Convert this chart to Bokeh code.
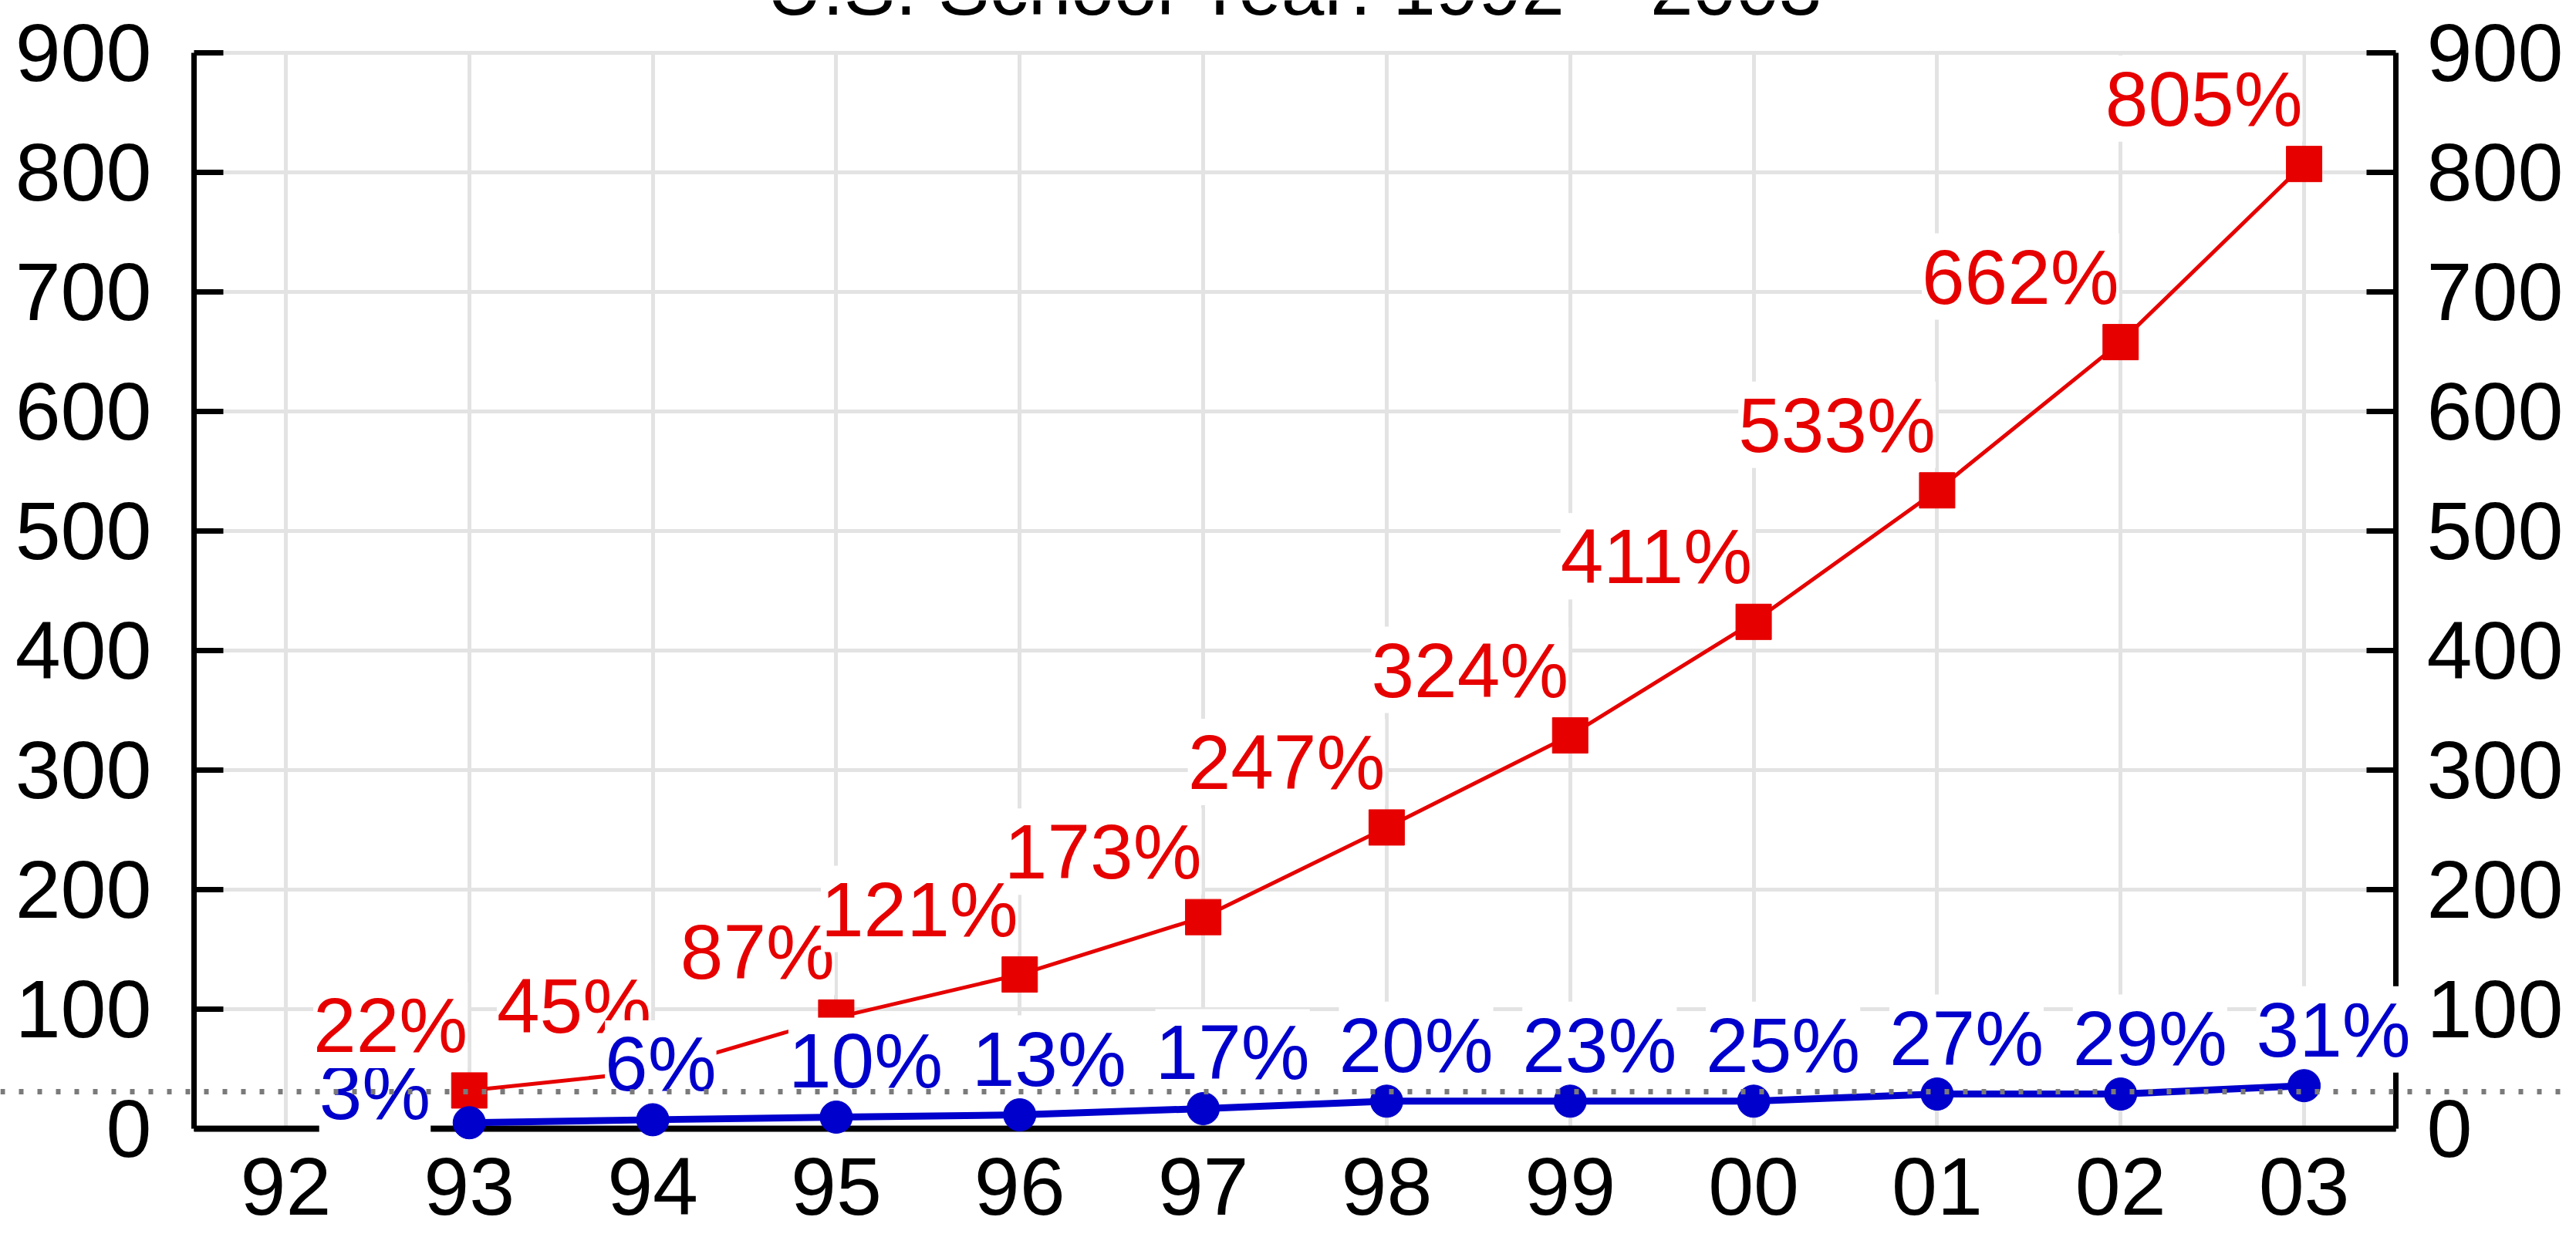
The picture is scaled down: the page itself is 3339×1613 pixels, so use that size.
from bokeh.plotting import figure
from bokeh.models import (ColumnDataSource, LabelSet, Label, LinearAxis, FixedTicker,
                          Range1d, Span, Grid)
from bokeh.embed import file_html
from bokeh.resources import INLINE
from bokeh.core.properties import value

# ---------------- data ----------------
TITLE = "U.S. School Year: 1992 \u2013 2003"
years = ["92", "93", "94", "95", "96", "97", "98", "99", "00", "01", "02", "03"]
series_years = ["93", "94", "95", "96", "97", "98", "99", "00", "01", "02", "03"]
red_values = [32, 48, 93, 129, 177, 252, 329, 424, 534, 658, 807]
red_labels = ["22%", "45%", "87%", "121%", "173%", "247%", "324%", "411%", "533%", "662%", "805%"]
blue_values = [5, 7.5, 9.7, 11.6, 16.8, 23, 23, 23, 29, 29, 36]
blue_labels = ["3%", "6%", "10%", "13%", "17%", "20%", "23%", "25%", "27%", "29%", "31%"]
y_ticks = [0, 100, 200, 300, 400, 500, 600, 700, 800, 900]
reference_level = 31

# ---------------- styles / layout ----------------
RED = "#e60000"
BLUE = "#0000cc"
GRID = "#e3e3e3"
FONT = "Liberation Sans"
FS_TICK = "106px"
FS_LABEL = "100px"

W, H = 3323, 1605
# pixel targets for the plotting box
BOX_L, BOX_R, BOX_T, BOX_B = 251, 3105, 68, 1463
TITLE_MIDDLE = -17

x_lo, x_hi = -0.5, len(years) - 0.5
y_lo, y_hi = y_ticks[0], y_ticks[-1]
ppx = (BOX_R - BOX_L) / (x_hi - x_lo)
ppy = (BOX_B - BOX_T) / (y_hi - y_lo)
x_range = Range1d(x_lo - BOX_L / ppx, x_hi + (W - BOX_R) / ppx)
y_range = Range1d(y_lo - (H - BOX_B) / ppy, y_hi + BOX_T / ppy)

xpos = [years.index(y) for y in series_years]

p = figure(width=W, height=H, x_range=x_range, y_range=y_range,
           output_backend="svg", toolbar_location=None,
           min_border_left=0, min_border_right=0, min_border_top=0, min_border_bottom=0)
p.outline_line_color = None
p.background_fill_color = "white"
p.border_fill_color = "white"

# grids
p.xgrid.ticker = FixedTicker(ticks=list(range(len(years))))
p.ygrid.ticker = FixedTicker(ticks=y_ticks)
if "cross_bounds" in Grid.properties():
    p.xgrid.cross_bounds = (y_lo, y_hi)
    p.ygrid.cross_bounds = (x_lo, x_hi)
    for g in (p.xgrid, p.ygrid):
        g.grid_line_color = GRID
        g.grid_line_width = 5
else:
    p.xgrid.visible = False
    p.ygrid.visible = False
    p.segment(x0=list(range(len(years))), y0=y_lo, x1=list(range(len(years))), y1=y_hi,
              line_color=GRID, line_width=5, level="underlay")
    p.segment(x0=x_lo, y0=y_ticks, x1=x_hi, y1=y_ticks,
              line_color=GRID, line_width=5, level="underlay")

# bottom axis, fixed at value 0
xa = p.xaxis[0]
xa.fixed_location = y_lo
xa.bounds = (x_lo, x_hi)
xa.ticker = FixedTicker(ticks=list(range(len(years))))
xa.major_label_overrides = {i: t for i, t in enumerate(years)}
xa.axis_line_width = 8
xa.axis_line_color = "black"
xa.major_tick_in = 0
xa.major_tick_out = 0
xa.minor_tick_in = 0
xa.minor_tick_out = 0
xa.major_label_standoff = 38
xa.major_label_text_font = FONT
xa.major_label_text_font_size = FS_TICK
xa.major_label_text_color = "black"

right = LinearAxis()
p.add_layout(right, "right")
left = p.yaxis[0]
left.fixed_location = x_lo
right.fixed_location = x_hi
for ax in (left, right):
    ax.bounds = (y_lo, y_hi)
    ax.ticker = FixedTicker(ticks=y_ticks)
    ax.axis_line_width = 7
    ax.axis_line_color = "black"
    ax.major_tick_in = 38
    ax.major_tick_out = 0
    ax.major_tick_line_width = 7
    ax.minor_tick_in = 0
    ax.minor_tick_out = 0
    ax.major_label_text_font = FONT
    ax.major_label_text_font_size = FS_TICK
    ax.major_label_text_color = "black"
left.major_label_standoff = 55
right.major_label_standoff = 40

# series
red_src = ColumnDataSource(dict(x=xpos, y=red_values, t=red_labels))
blue_src = ColumnDataSource(dict(x=xpos, y=blue_values, t=blue_labels))
blue_first = ColumnDataSource(dict(x=xpos[:1], y=blue_values[:1], t=blue_labels[:1]))
blue_rest = ColumnDataSource(dict(x=xpos[1:], y=blue_values[1:], t=blue_labels[1:]))

p.line("x", "y", source=red_src, line_color=RED, line_width=5)
p.scatter("x", "y", source=red_src, marker="square", size=46,
          fill_color=RED, line_color=RED)

common = dict(text_font=value(FONT), text_font_size=value(FS_LABEL),
              background_fill_color="white", text_baseline="alphabetic")

p.add_layout(LabelSet(x="x", y="y", text="t", source=blue_first, text_color=BLUE,
                      text_align="right", x_offset=-50, y_offset=5, **common))
p.add_layout(LabelSet(x="x", y="y", text="t", source=red_src, text_color=RED,
                      text_align="right", x_offset=-2, y_offset=50, **common))
p.add_layout(LabelSet(x="x", y="y", text="t", source=blue_rest, text_color=BLUE,
                      text_align="left", x_offset=-62, y_offset=38, **common))

p.line("x", "y", source=blue_src, line_color=BLUE, line_width=9, level="overlay")
p.scatter("x", "y", source=blue_src, marker="circle", size=42,
          fill_color=BLUE, line_color=BLUE, level="overlay")

# dotted reference line across the whole picture
p.add_layout(Span(location=reference_level, dimension="width", line_color="#7a7a7a",
                  line_width=7, line_dash="6 18", level="overlay"))

# title (partly cut off at the top)
p.add_layout(Label(x=(x_lo + x_hi) / 2, y=y_hi + (BOX_T - TITLE_MIDDLE) / ppy,
                   text=TITLE, text_align="center", text_baseline="middle",
                   text_font=FONT, text_font_size="100px", text_color="black"))

open("out.html", "w").write(file_html(p, INLINE))
